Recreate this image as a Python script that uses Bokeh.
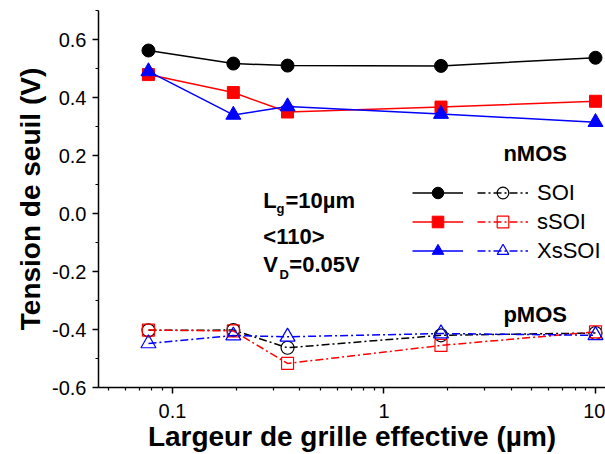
from bokeh.plotting import figure
from bokeh.models import (Range1d, FixedTicker, PrintfTickFormatter, Legend, LegendItem, Label)
from bokeh.core.properties import value
from bokeh.embed import file_html
from bokeh.resources import INLINE

# ---- data ----
gate_width = [0.077, 0.194, 0.35, 1.86, 10.0]          # effective gate width (µm)
n_soi   = [0.562, 0.517, 0.510, 0.509, 0.537]
n_ssoi  = [0.479, 0.417, 0.350, 0.367, 0.387]
n_xssoi = [0.490, 0.340, 0.369, 0.343, 0.315]
p_soi   = [-0.403, -0.402, -0.463, -0.420, -0.412]
p_ssoi  = [-0.402, -0.405, -0.517, -0.455, -0.408]
p_xssoi = [-0.448, -0.421, -0.425, -0.414, -0.420]
series_names = ["SOI", "sSOI", "XsSOI"]
x_ticks = [0.1, 1, 10]
x_minor = [0.05, 0.06, 0.07, 0.08, 0.09, 0.2, 0.3, 0.4, 0.5, 0.6, 0.7, 0.8, 0.9,
           2, 3, 4, 5, 6, 7, 8, 9]
y_ticks = [-0.6, -0.4, -0.2, 0.0, 0.2, 0.4, 0.6]
y_minor = [-0.5, -0.3, -0.1, 0.1, 0.3, 0.5, 0.7]

FONT = "Liberation Sans"

p = figure(width=605, height=454, x_axis_type="log",
           x_range=Range1d(0.0447, 11.15), y_range=Range1d(-0.6, 0.7),
           output_backend="svg", toolbar_location=None,
           min_border_left=98, min_border_right=0, min_border_top=10, min_border_bottom=67)
p.outline_line_color = None
p.grid.visible = False
p.background_fill_color = "white"

for ax in (p.xaxis[0], p.yaxis[0]):
    ax.axis_line_width = 1.5
    ax.axis_line_color = "black"
    ax.major_tick_line_width = 1.5
    ax.minor_tick_line_width = 1.2
    ax.major_tick_in = 0
    ax.major_tick_out = 6
    ax.minor_tick_in = 0
    ax.minor_tick_out = 3
    ax.major_label_text_font = FONT
    ax.major_label_text_font_size = "20px"
    ax.major_label_text_color = "black"
    ax.axis_label_text_font = FONT
    ax.axis_label_text_font_style = "bold"
    ax.axis_label_text_font_size = "28px"
    ax.axis_label_text_color = "black"

p.xaxis.ticker = FixedTicker(ticks=x_ticks, minor_ticks=x_minor)
p.xaxis.formatter = PrintfTickFormatter(format="%g")
p.yaxis.ticker = FixedTicker(ticks=y_ticks, minor_ticks=y_minor)
p.yaxis.formatter = PrintfTickFormatter(format="%.1f")
p.xaxis.axis_label = "Largeur de grille effective (µm)"
p.yaxis.axis_label = "Tension de seuil (V)"
p.xaxis.major_label_standoff = 10
p.yaxis.major_label_standoff = 6
p.xaxis.axis_label_standoff = 0
p.yaxis.axis_label_standoff = 3

colors = ["black", "red", "blue"]
markers = ["circle", "square", "triangle"]
sizes = [13, 12, 15]
n_data = [n_soi, n_ssoi, n_xssoi]
p_data = [p_soi, p_ssoi, p_xssoi]

n_items, p_items = [], []
for name, col, mk, sz, nd, pd_ in zip(series_names, colors, markers, sizes, n_data, p_data):
    ln = p.line(gate_width, nd, line_color=col, line_width=1.5)
    sc = p.scatter(gate_width, nd, marker=mk, size=sz, fill_color=col, line_color=col)
    lp = p.line(gate_width, pd_, line_color=col, line_width=1.5, line_dash="8 3 2 3")
    sp = p.scatter(gate_width, pd_, marker=mk, size=sz, fill_color=None, line_color=col, line_width=1.2)
    n_items.append(LegendItem(label=value(" "), renderers=[ln, sc]))
    p_items.append(LegendItem(label=value(name), renderers=[lp, sp]))

def make_legend(items, x):
    lg = Legend(items=items, location=(x, 122), orientation="vertical",
                glyph_width=51, glyph_height=29, label_height=29, spacing=0,
                padding=0, margin=0, label_standoff=9,
                border_line_alpha=0, background_fill_alpha=0,
                label_text_font=FONT, label_text_font_size="22px",
                label_text_color="black")
    return lg

p.add_layout(make_legend(n_items, 314), "center")
p.add_layout(make_legend(p_items, 379), "center")

def lab(x, y, t, size="22px"):
    p.add_layout(Label(x=x, y=y, text=t, text_font=FONT, text_font_style="bold",
                       text_font_size=size, text_color="black",
                       text_baseline="alphabetic", text_align="left"))

lab(3.67, 0.207, "nMOS")
lab(3.67, -0.348, "pMOS")
lab(0.269, 0.045, "L")
lab(0.310, 0.017, "g", "13px")
lab(0.342, 0.045, "=10µm")
lab(0.269, -0.079, "<110>")
lab(0.269, -0.176, "V")
lab(0.321, -0.210, "D", "13px")
lab(0.357, -0.176, "=0.05V")

open("out.html", "w").write(file_html(p, INLINE))
